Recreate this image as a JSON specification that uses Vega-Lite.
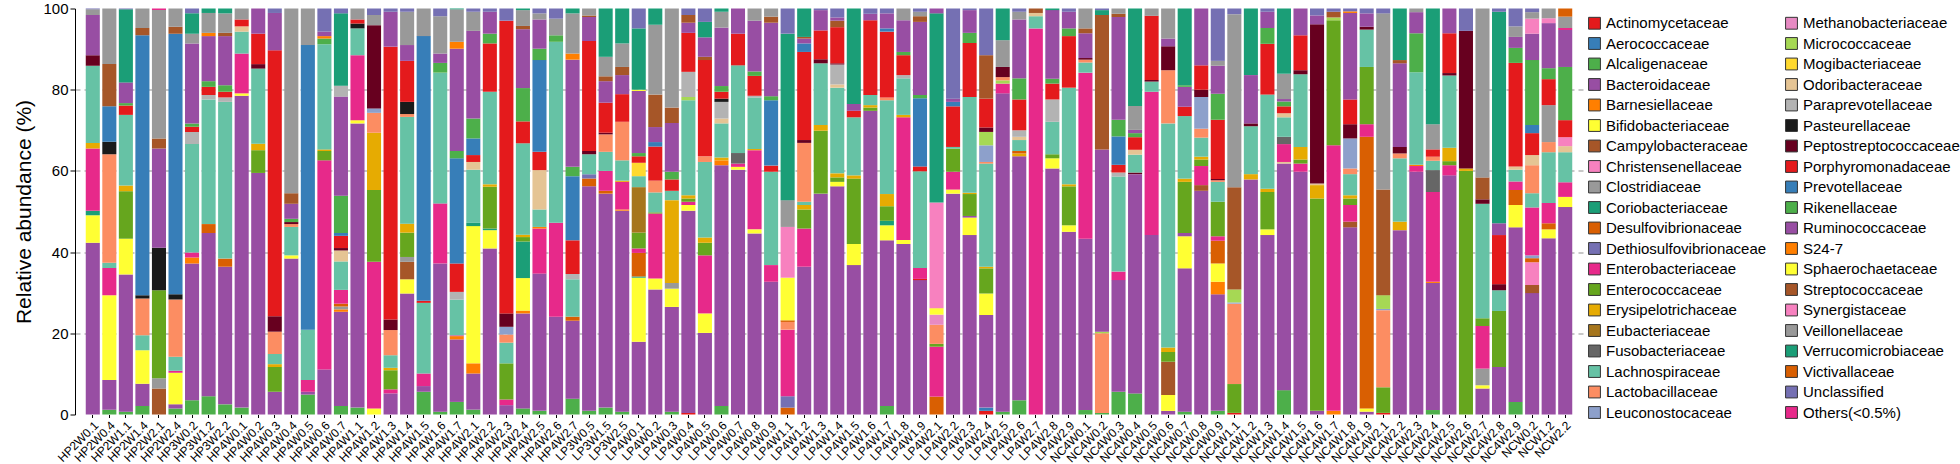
{
"$schema":"https://vega.github.io/schema/vega-lite/v6.json",
"width":1508,"height":406,
"autosize":{"type":"none"},
"padding":{"left":75,"top":8.5,"right":377,"bottom":50},
"config":{"font":"Liberation Sans","view":{"stroke":null}},
"datasets":{
"fam":[{"c":"Act","n":"Actinomycetaceae"},{"c":"Aer","n":"Aerococcaceae"},{"c":"Alc","n":"Alcaligenaceae"},{"c":"Bac","n":"Bacteroidaceae"},{"c":"Bar","n":"Barnesiellaceae"},{"c":"Bif","n":"Bifidobacteriaceae"},{"c":"Cam","n":"Campylobacteraceae"},{"c":"Chr","n":"Christensenellaceae"},{"c":"Clo","n":"Clostridiaceae"},{"c":"Cor","n":"Coriobacteriaceae"},{"c":"Des","n":"Desulfovibrionaceae"},{"c":"Det","n":"Dethiosulfovibrionaceae"},{"c":"Ent","n":"Enterobacteriaceae"},{"c":"Enc","n":"Enterococcaceae"},{"c":"Ery","n":"Erysipelotrichaceae"},{"c":"Eub","n":"Eubacteriaceae"},{"c":"Fus","n":"Fusobacteriaceae"},{"c":"Lac","n":"Lachnospiraceae"},{"c":"Lab","n":"Lactobacillaceae"},{"c":"Leu","n":"Leuconostocaceae"},{"c":"Met","n":"Methanobacteriaceae"},{"c":"Mic","n":"Micrococcaceae"},{"c":"Mog","n":"Mogibacteriaceae"},{"c":"Odo","n":"Odoribacteraceae"},{"c":"Par","n":"Paraprevotellaceae"},{"c":"Pas","n":"Pasteurellaceae"},{"c":"Pep","n":"Peptostreptococcaceae"},{"c":"Por","n":"Porphyromonadaceae"},{"c":"Pre","n":"Prevotellaceae"},{"c":"Rik","n":"Rikenellaceae"},{"c":"Rum","n":"Ruminococcaceae"},{"c":"S24","n":"S24-7"},{"c":"Sph","n":"Sphaerochaetaceae"},{"c":"Str","n":"Streptococcaceae"},{"c":"Syn","n":"Synergistaceae"},{"c":"Vei","n":"Veillonellaceae"},{"c":"Ver","n":"Verrucomicrobiaceae"},{"c":"Vic","n":"Victivallaceae"},{"c":"Unc","n":"Unclassified"},{"c":"Oth","n":"Others(<0.5%)"}],
"d":[
{"s":"HP2W0.1","f":"Rum","v":42.3},{"s":"HP2W0.1","f":"Bif","v":6.8},{"s":"HP2W0.1","f":"Cor","v":1.1},{"s":"HP2W0.1","f":"Ent","v":15.3},{"s":"HP2W0.1","f":"Ery","v":1.4},{"s":"HP2W0.1","f":"Lac","v":19.0},{"s":"HP2W0.1","f":"Pep","v":2.6},{"s":"HP2W0.1","f":"Bac","v":9.9},{"s":"HP2W0.1","f":"Clo","v":1.4},{"s":"HP2W0.1","f":"Unc","v":0.2},
{"s":"HP2W0.4","f":"Rik","v":1.2},{"s":"HP2W0.4","f":"Rum","v":7.3},{"s":"HP2W0.4","f":"Bif","v":20.9},{"s":"HP2W0.4","f":"Ent","v":6.7},{"s":"HP2W0.4","f":"Lac","v":1.3},{"s":"HP2W0.4","f":"Lab","v":26.7},{"s":"HP2W0.4","f":"Pas","v":3.1},{"s":"HP2W0.4","f":"Pre","v":8.7},{"s":"HP2W0.4","f":"Str","v":10.4},{"s":"HP2W0.4","f":"Clo","v":13.7},
{"s":"HP2W1.1","f":"Rik","v":0.7},{"s":"HP2W1.1","f":"Rum","v":33.8},{"s":"HP2W1.1","f":"Bif","v":8.8},{"s":"HP2W1.1","f":"Enc","v":11.7},{"s":"HP2W1.1","f":"Ery","v":1.4},{"s":"HP2W1.1","f":"Lac","v":17.4},{"s":"HP2W1.1","f":"Por","v":2.3},{"s":"HP2W1.1","f":"Alc","v":0.6},{"s":"HP2W1.1","f":"Bac","v":5.1},{"s":"HP2W1.1","f":"Ver","v":18.0},{"s":"HP2W1.1","f":"Unc","v":0.2},
{"s":"HP2W1.4","f":"Rik","v":2.1},{"s":"HP2W1.4","f":"Rum","v":5.5},{"s":"HP2W1.4","f":"Bif","v":8.2},{"s":"HP2W1.4","f":"Lac","v":3.7},{"s":"HP2W1.4","f":"Lab","v":9.1},{"s":"HP2W1.4","f":"Pas","v":0.8},{"s":"HP2W1.4","f":"Pre","v":64.0},{"s":"HP2W1.4","f":"Str","v":1.8},{"s":"HP2W1.4","f":"Clo","v":4.8},
{"s":"HP2W2.1","f":"Cam","v":6.4},{"s":"HP2W2.1","f":"Clo","v":2.5},{"s":"HP2W2.1","f":"Enc","v":21.7},{"s":"HP2W2.1","f":"Pas","v":10.5},{"s":"HP2W2.1","f":"Rum","v":24.4},{"s":"HP2W2.1","f":"Str","v":2.5},{"s":"HP2W2.1","f":"Vei","v":31.6},{"s":"HP2W2.1","f":"Oth","v":0.4},
{"s":"HP2W2.4","f":"Rik","v":1.5},{"s":"HP2W2.4","f":"Rum","v":1.0},{"s":"HP2W2.4","f":"Bif","v":7.8},{"s":"HP2W2.4","f":"Oth","v":0.5},{"s":"HP2W2.4","f":"Lac","v":3.4},{"s":"HP2W2.4","f":"Lab","v":14.1},{"s":"HP2W2.4","f":"Pas","v":1.3},{"s":"HP2W2.4","f":"Pre","v":64.2},{"s":"HP2W2.4","f":"Str","v":1.7},{"s":"HP2W2.4","f":"Clo","v":4.5},
{"s":"HP3W0.2","f":"Rik","v":3.5},{"s":"HP3W0.2","f":"Rum","v":33.7},{"s":"HP3W0.2","f":"S24","v":1.5},{"s":"HP3W0.2","f":"Ent","v":1.2},{"s":"HP3W0.2","f":"Lac","v":26.7},{"s":"HP3W0.2","f":"Par","v":3.0},{"s":"HP3W0.2","f":"Por","v":1.3},{"s":"HP3W0.2","f":"Alc","v":0.8},{"s":"HP3W0.2","f":"Bac","v":19.7},{"s":"HP3W0.2","f":"Clo","v":2.4},{"s":"HP3W0.2","f":"Ver","v":5.0},{"s":"HP3W0.2","f":"Unc","v":1.2},
{"s":"HP3W1.2","f":"Rik","v":4.5},{"s":"HP3W1.2","f":"Rum","v":40.2},{"s":"HP3W1.2","f":"Vic","v":2.2},{"s":"HP3W1.2","f":"Lac","v":30.7},{"s":"HP3W1.2","f":"Par","v":1.1},{"s":"HP3W1.2","f":"Por","v":2.0},{"s":"HP3W1.2","f":"Alc","v":1.4},{"s":"HP3W1.2","f":"Bac","v":11.1},{"s":"HP3W1.2","f":"S24","v":0.8},{"s":"HP3W1.2","f":"Clo","v":4.9},{"s":"HP3W1.2","f":"Ver","v":1.1},
{"s":"HP3W2.2","f":"Rik","v":2.5},{"s":"HP3W2.2","f":"Rum","v":33.9},{"s":"HP3W2.2","f":"Vic","v":2.0},{"s":"HP3W2.2","f":"Lac","v":38.6},{"s":"HP3W2.2","f":"Par","v":1.1},{"s":"HP3W2.2","f":"Act","v":1.4},{"s":"HP3W2.2","f":"Alc","v":1.6},{"s":"HP3W2.2","f":"Bac","v":12.1},{"s":"HP3W2.2","f":"Str","v":0.8},{"s":"HP3W2.2","f":"Clo","v":4.8},{"s":"HP3W2.2","f":"Ver","v":1.2},
{"s":"HP4W0.1","f":"Rik","v":1.7},{"s":"HP4W0.1","f":"Rum","v":76.8},{"s":"HP4W0.1","f":"Sph","v":0.6},{"s":"HP4W0.1","f":"Ent","v":9.8},{"s":"HP4W0.1","f":"Lac","v":5.4},{"s":"HP4W0.1","f":"Odo","v":1.3},{"s":"HP4W0.1","f":"Por","v":1.7},{"s":"HP4W0.1","f":"Clo","v":2.7},
{"s":"HP4W0.2","f":"Rum","v":59.5},{"s":"HP4W0.2","f":"Enc","v":5.6},{"s":"HP4W0.2","f":"Ery","v":1.6},{"s":"HP4W0.2","f":"Lac","v":18.5},{"s":"HP4W0.2","f":"Pep","v":1.1},{"s":"HP4W0.2","f":"Por","v":7.5},{"s":"HP4W0.2","f":"Bac","v":6.2},
{"s":"HP4W0.3","f":"Rum","v":5.6},{"s":"HP4W0.3","f":"Enc","v":6.1},{"s":"HP4W0.3","f":"Ery","v":0.7},{"s":"HP4W0.3","f":"Lac","v":2.5},{"s":"HP4W0.3","f":"Lab","v":5.5},{"s":"HP4W0.3","f":"Pep","v":3.8},{"s":"HP4W0.3","f":"Por","v":65.5},{"s":"HP4W0.3","f":"Bac","v":9.2},{"s":"HP4W0.3","f":"Unc","v":1.1},
{"s":"HP4W0.4","f":"Rum","v":38.4},{"s":"HP4W0.4","f":"Sph","v":0.8},{"s":"HP4W0.4","f":"Lac","v":7.0},{"s":"HP4W0.4","f":"Lab","v":0.7},{"s":"HP4W0.4","f":"Pep","v":0.5},{"s":"HP4W0.4","f":"Alc","v":0.8},{"s":"HP4W0.4","f":"Bac","v":3.7},{"s":"HP4W0.4","f":"Str","v":2.6},{"s":"HP4W0.4","f":"Clo","v":45.5},
{"s":"HP4W0.5","f":"Rik","v":4.9},{"s":"HP4W0.5","f":"Rum","v":0.7},{"s":"HP4W0.5","f":"Ent","v":2.9},{"s":"HP4W0.5","f":"Lac","v":12.4},{"s":"HP4W0.5","f":"Pre","v":70.1},{"s":"HP4W0.5","f":"Clo","v":9.0},
{"s":"HP4W0.6","f":"Rum","v":11.1},{"s":"HP4W0.6","f":"Ent","v":51.5},{"s":"HP4W0.6","f":"Enc","v":2.3},{"s":"HP4W0.6","f":"Ery","v":0.4},{"s":"HP4W0.6","f":"Lac","v":25.9},{"s":"HP4W0.6","f":"Alc","v":1.4},{"s":"HP4W0.6","f":"S24","v":0.6},{"s":"HP4W0.6","f":"Bac","v":1.1},{"s":"HP4W0.6","f":"Unc","v":5.7},
{"s":"HP4W0.7","f":"Rik","v":2.1},{"s":"HP4W0.7","f":"Rum","v":23.2},{"s":"HP4W0.7","f":"S24","v":0.6},{"s":"HP4W0.7","f":"Clo","v":0.7},{"s":"HP4W0.7","f":"Vic","v":0.7},{"s":"HP4W0.7","f":"Ent","v":3.4},{"s":"HP4W0.7","f":"Lac","v":7.0},{"s":"HP4W0.7","f":"Odo","v":2.7},{"s":"HP4W0.7","f":"Pep","v":0.6},{"s":"HP4W0.7","f":"Por","v":3.0},{"s":"HP4W0.7","f":"Pre","v":0.7},{"s":"HP4W0.7","f":"Alc","v":9.2},{"s":"HP4W0.7","f":"Bac","v":24.4},{"s":"HP4W0.7","f":"Par","v":2.7},{"s":"HP4W0.7","f":"Ver","v":17.8},{"s":"HP4W0.7","f":"Unc","v":1.2},
{"s":"HP4W1.1","f":"Rik","v":1.7},{"s":"HP4W1.1","f":"Rum","v":70.0},{"s":"HP4W1.1","f":"Sph","v":0.8},{"s":"HP4W1.1","f":"Ent","v":16.0},{"s":"HP4W1.1","f":"Lac","v":6.6},{"s":"HP4W1.1","f":"Pas","v":1.2},{"s":"HP4W1.1","f":"Por","v":1.0},{"s":"HP4W1.1","f":"Clo","v":2.7},
{"s":"HP4W1.2","f":"Sph","v":1.5},{"s":"HP4W1.2","f":"Ent","v":36.1},{"s":"HP4W1.2","f":"Enc","v":17.7},{"s":"HP4W1.2","f":"Ery","v":14.1},{"s":"HP4W1.2","f":"Lab","v":4.9},{"s":"HP4W1.2","f":"Leu","v":1.1},{"s":"HP4W1.2","f":"Pep","v":20.5},{"s":"HP4W1.2","f":"Clo","v":2.5},{"s":"HP4W1.2","f":"Unc","v":1.6},
{"s":"HP4W1.3","f":"Rum","v":5.2},{"s":"HP4W1.3","f":"Oth","v":1.0},{"s":"HP4W1.3","f":"Enc","v":4.7},{"s":"HP4W1.3","f":"Ery","v":0.6},{"s":"HP4W1.3","f":"Lac","v":3.1},{"s":"HP4W1.3","f":"Lab","v":6.2},{"s":"HP4W1.3","f":"Pep","v":2.6},{"s":"HP4W1.3","f":"Por","v":67.2},{"s":"HP4W1.3","f":"Bac","v":8.6},{"s":"HP4W1.3","f":"Unc","v":0.8},
{"s":"HP4W1.4","f":"Rum","v":29.8},{"s":"HP4W1.4","f":"Sph","v":3.5},{"s":"HP4W1.4","f":"Str","v":4.3},{"s":"HP4W1.4","f":"Vei","v":1.2},{"s":"HP4W1.4","f":"Enc","v":6.0},{"s":"HP4W1.4","f":"Ery","v":2.2},{"s":"HP4W1.4","f":"Lac","v":26.3},{"s":"HP4W1.4","f":"Lab","v":0.7},{"s":"HP4W1.4","f":"Pas","v":3.0},{"s":"HP4W1.4","f":"Por","v":10.1},{"s":"HP4W1.4","f":"Bac","v":3.9},{"s":"HP4W1.4","f":"Clo","v":8.2},{"s":"HP4W1.4","f":"Unc","v":0.8},
{"s":"HP4W1.5","f":"Rik","v":5.6},{"s":"HP4W1.5","f":"Rum","v":1.4},{"s":"HP4W1.5","f":"Ent","v":3.1},{"s":"HP4W1.5","f":"Lac","v":17.4},{"s":"HP4W1.5","f":"Por","v":0.5},{"s":"HP4W1.5","f":"Pre","v":65.2},{"s":"HP4W1.5","f":"Clo","v":6.8},
{"s":"HP4W1.6","f":"Rik","v":0.7},{"s":"HP4W1.6","f":"Rum","v":36.5},{"s":"HP4W1.6","f":"Ent","v":14.8},{"s":"HP4W1.6","f":"Lac","v":32.2},{"s":"HP4W1.6","f":"Alc","v":2.4},{"s":"HP4W1.6","f":"Bac","v":2.3},{"s":"HP4W1.6","f":"Clo","v":9.2},{"s":"HP4W1.6","f":"Unc","v":1.9},
{"s":"HP4W1.7","f":"Rik","v":3.1},{"s":"HP4W1.7","f":"Rum","v":15.4},{"s":"HP4W1.7","f":"S24","v":0.8},{"s":"HP4W1.7","f":"Oth","v":0.2},{"s":"HP4W1.7","f":"Lac","v":8.8},{"s":"HP4W1.7","f":"Par","v":1.9},{"s":"HP4W1.7","f":"Por","v":7.0},{"s":"HP4W1.7","f":"Pre","v":25.9},{"s":"HP4W1.7","f":"Alc","v":1.8},{"s":"HP4W1.7","f":"Bac","v":25.2},{"s":"HP4W1.7","f":"Bar","v":1.7},{"s":"HP4W1.7","f":"Clo","v":8.0},{"s":"HP4W1.7","f":"Ver","v":0.2},
{"s":"HP4W2.1","f":"Rik","v":1.2},{"s":"HP4W2.1","f":"Rum","v":8.9},{"s":"HP4W2.1","f":"S24","v":2.5},{"s":"HP4W2.1","f":"Bif","v":33.8},{"s":"HP4W2.1","f":"Cor","v":0.8},{"s":"HP4W2.1","f":"Lac","v":13.1},{"s":"HP4W2.1","f":"Odo","v":1.9},{"s":"HP4W2.1","f":"Por","v":1.7},{"s":"HP4W2.1","f":"Pre","v":4.1},{"s":"HP4W2.1","f":"Alc","v":4.9},{"s":"HP4W2.1","f":"Bac","v":21.6},{"s":"HP4W2.1","f":"Clo","v":4.7},{"s":"HP4W2.1","f":"Unc","v":0.8},
{"s":"HP4W2.2","f":"Rum","v":40.9},{"s":"HP4W2.2","f":"Sph","v":4.5},{"s":"HP4W2.2","f":"Cor","v":0.4},{"s":"HP4W2.2","f":"Enc","v":10.3},{"s":"HP4W2.2","f":"Ery","v":0.6},{"s":"HP4W2.2","f":"Lac","v":22.8},{"s":"HP4W2.2","f":"Por","v":11.9},{"s":"HP4W2.2","f":"Alc","v":2.4},{"s":"HP4W2.2","f":"Bac","v":5.4},{"s":"HP4W2.2","f":"Unc","v":0.8},
{"s":"HP4W2.3","f":"Rum","v":2.3},{"s":"HP4W2.3","f":"Oth","v":1.4},{"s":"HP4W2.3","f":"Enc","v":8.9},{"s":"HP4W2.3","f":"Lac","v":5.1},{"s":"HP4W2.3","f":"Lab","v":2.0},{"s":"HP4W2.3","f":"Leu","v":1.9},{"s":"HP4W2.3","f":"Pep","v":3.3},{"s":"HP4W2.3","f":"Por","v":72.1},{"s":"HP4W2.3","f":"Unc","v":3.0},
{"s":"HP4W2.4","f":"Rik","v":1.5},{"s":"HP4W2.4","f":"Rum","v":23.4},{"s":"HP4W2.4","f":"S24","v":0.7},{"s":"HP4W2.4","f":"Sph","v":8.0},{"s":"HP4W2.4","f":"Cor","v":9.0},{"s":"HP4W2.4","f":"Enc","v":1.1},{"s":"HP4W2.4","f":"Ery","v":0.6},{"s":"HP4W2.4","f":"Lac","v":22.5},{"s":"HP4W2.4","f":"Por","v":5.4},{"s":"HP4W2.4","f":"Alc","v":8.2},{"s":"HP4W2.4","f":"Bac","v":14.5},{"s":"HP4W2.4","f":"Str","v":0.8},{"s":"HP4W2.4","f":"Clo","v":3.9},{"s":"HP4W2.4","f":"Ver","v":0.4},
{"s":"HP4W2.5","f":"Rik","v":0.9},{"s":"HP4W2.5","f":"Rum","v":33.8},{"s":"HP4W2.5","f":"Ent","v":11.1},{"s":"HP4W2.5","f":"S24","v":0.4},{"s":"HP4W2.5","f":"Lac","v":4.3},{"s":"HP4W2.5","f":"Odo","v":9.7},{"s":"HP4W2.5","f":"Por","v":4.5},{"s":"HP4W2.5","f":"Pre","v":22.6},{"s":"HP4W2.5","f":"Alc","v":2.8},{"s":"HP4W2.5","f":"Bac","v":7.2},{"s":"HP4W2.5","f":"Clo","v":1.5},{"s":"HP4W2.5","f":"Unc","v":1.2},
{"s":"HP4W2.6","f":"Rum","v":24.1},{"s":"HP4W2.6","f":"Ent","v":23.1},{"s":"HP4W2.6","f":"Lac","v":44.6},{"s":"HP4W2.6","f":"Alc","v":1.6},{"s":"HP4W2.6","f":"Clo","v":4.1},{"s":"HP4W2.6","f":"Unc","v":2.5},
{"s":"HP4W2.7","f":"Rik","v":3.9},{"s":"HP4W2.7","f":"Rum","v":19.2},{"s":"HP4W2.7","f":"Vic","v":1.0},{"s":"HP4W2.7","f":"Lac","v":9.2},{"s":"HP4W2.7","f":"Par","v":1.3},{"s":"HP4W2.7","f":"Por","v":8.3},{"s":"HP4W2.7","f":"Pre","v":15.8},{"s":"HP4W2.7","f":"Alc","v":2.3},{"s":"HP4W2.7","f":"Bac","v":26.4},{"s":"HP4W2.7","f":"S24","v":1.5},{"s":"HP4W2.7","f":"Clo","v":9.9},{"s":"HP4W2.7","f":"Ver","v":1.2},
{"s":"LP3W0.5","f":"Rik","v":0.9},{"s":"LP3W0.5","f":"Rum","v":55.3},{"s":"LP3W0.5","f":"Des","v":1.9},{"s":"LP3W0.5","f":"Det","v":1.1},{"s":"LP3W0.5","f":"Lac","v":4.9},{"s":"LP3W0.5","f":"Pep","v":0.8},{"s":"LP3W0.5","f":"Por","v":27.1},{"s":"LP3W0.5","f":"Bac","v":5.9},{"s":"LP3W0.5","f":"Str","v":0.4},{"s":"LP3W0.5","f":"Clo","v":1.7},
{"s":"LP3W1.5","f":"Rik","v":1.7},{"s":"LP3W1.5","f":"Rum","v":52.7},{"s":"LP3W1.5","f":"Vic","v":0.7},{"s":"LP3W1.5","f":"Ent","v":4.9},{"s":"LP3W1.5","f":"Lac","v":4.7},{"s":"LP3W1.5","f":"Lab","v":4.3},{"s":"LP3W1.5","f":"Pep","v":0.4},{"s":"LP3W1.5","f":"Por","v":7.4},{"s":"LP3W1.5","f":"Bac","v":5.3},{"s":"LP3W1.5","f":"Str","v":1.2},{"s":"LP3W1.5","f":"Clo","v":4.8},{"s":"LP3W1.5","f":"Ver","v":11.9},
{"s":"LP3W2.5","f":"Rik","v":0.7},{"s":"LP3W2.5","f":"Rum","v":49.5},{"s":"LP3W2.5","f":"S24","v":0.3},{"s":"LP3W2.5","f":"Ent","v":6.8},{"s":"LP3W2.5","f":"Ery","v":0.3},{"s":"LP3W2.5","f":"Lac","v":5.0},{"s":"LP3W2.5","f":"Lab","v":9.5},{"s":"LP3W2.5","f":"Por","v":6.8},{"s":"LP3W2.5","f":"Bac","v":4.7},{"s":"LP3W2.5","f":"Str","v":2.0},{"s":"LP3W2.5","f":"Clo","v":5.8},{"s":"LP3W2.5","f":"Ver","v":8.6},
{"s":"LP4W0.1","f":"Rum","v":17.9},{"s":"LP4W0.1","f":"Bif","v":15.8},{"s":"LP4W0.1","f":"Cor","v":0.3},{"s":"LP4W0.1","f":"Des","v":5.8},{"s":"LP4W0.1","f":"Oth","v":1.1},{"s":"LP4W0.1","f":"Enc","v":3.9},{"s":"LP4W0.1","f":"Eub","v":11.2},{"s":"LP4W0.1","f":"Lac","v":2.7},{"s":"LP4W0.1","f":"Mog","v":3.3},{"s":"LP4W0.1","f":"Act","v":1.6},{"s":"LP4W0.1","f":"Alc","v":0.8},{"s":"LP4W0.1","f":"Bac","v":15.3},{"s":"LP4W0.1","f":"Sph","v":0.3},{"s":"LP4W0.1","f":"Ver","v":15.1},{"s":"LP4W0.1","f":"Unc","v":4.9},
{"s":"LP4W0.2","f":"Rum","v":30.8},{"s":"LP4W0.2","f":"Sph","v":2.7},{"s":"LP4W0.2","f":"Ent","v":16.0},{"s":"LP4W0.2","f":"Enc","v":0.3},{"s":"LP4W0.2","f":"Lac","v":4.9},{"s":"LP4W0.2","f":"Lab","v":2.9},{"s":"LP4W0.2","f":"Por","v":8.4},{"s":"LP4W0.2","f":"Pre","v":1.1},{"s":"LP4W0.2","f":"Bac","v":3.7},{"s":"LP4W0.2","f":"Str","v":8.0},{"s":"LP4W0.2","f":"Clo","v":17.2},{"s":"LP4W0.2","f":"Ver","v":4.0},
{"s":"LP4W0.3","f":"Rik","v":0.7},{"s":"LP4W0.3","f":"Rum","v":25.8},{"s":"LP4W0.3","f":"Bif","v":4.5},{"s":"LP4W0.3","f":"Clo","v":1.4},{"s":"LP4W0.3","f":"Ery","v":20.4},{"s":"LP4W0.3","f":"Lac","v":2.3},{"s":"LP4W0.3","f":"Por","v":2.8},{"s":"LP4W0.3","f":"Alc","v":1.9},{"s":"LP4W0.3","f":"Bac","v":12.0},{"s":"LP4W0.3","f":"Str","v":3.8},{"s":"LP4W0.3","f":"Vei","v":24.4},
{"s":"LP4W0.4","f":"Act","v":0.4},{"s":"LP4W0.4","f":"Rum","v":49.8},{"s":"LP4W0.4","f":"Sph","v":1.4},{"s":"LP4W0.4","f":"Oth","v":0.8},{"s":"LP4W0.4","f":"Enc","v":0.8},{"s":"LP4W0.4","f":"Ery","v":0.8},{"s":"LP4W0.4","f":"Lac","v":23.4},{"s":"LP4W0.4","f":"Mic","v":0.8},{"s":"LP4W0.4","f":"Par","v":6.2},{"s":"LP4W0.4","f":"Por","v":9.6},{"s":"LP4W0.4","f":"Bac","v":2.5},{"s":"LP4W0.4","f":"Str","v":1.9},{"s":"LP4W0.4","f":"Unc","v":1.6},
{"s":"LP4W0.5","f":"Rum","v":20.1},{"s":"LP4W0.5","f":"Sph","v":4.8},{"s":"LP4W0.5","f":"Ent","v":14.3},{"s":"LP4W0.5","f":"Enc","v":3.1},{"s":"LP4W0.5","f":"Ery","v":1.3},{"s":"LP4W0.5","f":"Lac","v":18.6},{"s":"LP4W0.5","f":"Lab","v":1.4},{"s":"LP4W0.5","f":"Por","v":23.7},{"s":"LP4W0.5","f":"Str","v":0.8},{"s":"LP4W0.5","f":"Bac","v":4.8},{"s":"LP4W0.5","f":"Ver","v":3.8},{"s":"LP4W0.5","f":"Unc","v":3.3},
{"s":"LP4W0.6","f":"Rik","v":2.1},{"s":"LP4W0.6","f":"Rum","v":59.3},{"s":"LP4W0.6","f":"S24","v":1.2},{"s":"LP4W0.6","f":"Ery","v":0.7},{"s":"LP4W0.6","f":"Lac","v":8.4},{"s":"LP4W0.6","f":"Odo","v":1.2},{"s":"LP4W0.6","f":"Par","v":4.1},{"s":"LP4W0.6","f":"Pas","v":0.8},{"s":"LP4W0.6","f":"Por","v":1.7},{"s":"LP4W0.6","f":"Alc","v":1.4},{"s":"LP4W0.6","f":"Bac","v":14.4},{"s":"LP4W0.6","f":"Clo","v":3.9},{"s":"LP4W0.6","f":"Ver","v":0.8},
{"s":"LP4W0.7","f":"Rum","v":60.3},{"s":"LP4W0.7","f":"Sph","v":0.7},{"s":"LP4W0.7","f":"Oth","v":0.8},{"s":"LP4W0.7","f":"Fus","v":2.6},{"s":"LP4W0.7","f":"Lac","v":21.6},{"s":"LP4W0.7","f":"Por","v":7.8},{"s":"LP4W0.7","f":"Bac","v":6.2},
{"s":"LP4W0.8","f":"Rum","v":44.6},{"s":"LP4W0.8","f":"Sph","v":1.0},{"s":"LP4W0.8","f":"Ent","v":19.5},{"s":"LP4W0.8","f":"Ery","v":0.3},{"s":"LP4W0.8","f":"Lac","v":12.7},{"s":"LP4W0.8","f":"Par","v":0.4},{"s":"LP4W0.8","f":"Por","v":4.9},{"s":"LP4W0.8","f":"Alc","v":1.1},{"s":"LP4W0.8","f":"Bac","v":12.5},{"s":"LP4W0.8","f":"Clo","v":3.0},
{"s":"LP4W0.9","f":"Rum","v":32.7},{"s":"LP4W0.9","f":"Ent","v":4.1},{"s":"LP4W0.9","f":"Lac","v":23.0},{"s":"LP4W0.9","f":"Por","v":1.5},{"s":"LP4W0.9","f":"Pre","v":16.1},{"s":"LP4W0.9","f":"Alc","v":1.0},{"s":"LP4W0.9","f":"Bac","v":18.1},{"s":"LP4W0.9","f":"Str","v":1.5},{"s":"LP4W0.9","f":"Clo","v":2.0},
{"s":"LP4W1.1","f":"Des","v":1.7},{"s":"LP4W1.1","f":"Det","v":2.8},{"s":"LP4W1.1","f":"Ent","v":16.4},{"s":"LP4W1.1","f":"Lab","v":1.9},{"s":"LP4W1.1","f":"Vic","v":0.4},{"s":"LP4W1.1","f":"Bif","v":10.5},{"s":"LP4W1.1","f":"Syn","v":12.5},{"s":"LP4W1.1","f":"Vei","v":6.6},{"s":"LP4W1.1","f":"Ver","v":41.0},{"s":"LP4W1.1","f":"Unc","v":6.2},
{"s":"LP4W1.2","f":"Rum","v":36.4},{"s":"LP4W1.2","f":"Ent","v":9.4},{"s":"LP4W1.2","f":"Enc","v":4.7},{"s":"LP4W1.2","f":"Ery","v":1.1},{"s":"LP4W1.2","f":"Lac","v":0.8},{"s":"LP4W1.2","f":"Lab","v":14.5},{"s":"LP4W1.2","f":"Pep","v":0.7},{"s":"LP4W1.2","f":"Por","v":21.7},{"s":"LP4W1.2","f":"Pre","v":2.1},{"s":"LP4W1.2","f":"Bac","v":1.2},{"s":"LP4W1.2","f":"Str","v":0.4},{"s":"LP4W1.2","f":"Ver","v":7.0},
{"s":"LP4W1.3","f":"Rum","v":54.4},{"s":"LP4W1.3","f":"Enc","v":15.5},{"s":"LP4W1.3","f":"Ery","v":1.4},{"s":"LP4W1.3","f":"Lac","v":15.2},{"s":"LP4W1.3","f":"Pep","v":1.0},{"s":"LP4W1.3","f":"Por","v":7.1},{"s":"LP4W1.3","f":"Bac","v":5.0},{"s":"LP4W1.3","f":"Unc","v":0.4},
{"s":"LP4W1.4","f":"Rum","v":56.2},{"s":"LP4W1.4","f":"Sph","v":1.1},{"s":"LP4W1.4","f":"Enc","v":1.1},{"s":"LP4W1.4","f":"Ery","v":1.0},{"s":"LP4W1.4","f":"Lac","v":21.1},{"s":"LP4W1.4","f":"Odo","v":0.8},{"s":"LP4W1.4","f":"Par","v":4.9},{"s":"LP4W1.4","f":"Pep","v":0.3},{"s":"LP4W1.4","f":"Por","v":8.9},{"s":"LP4W1.4","f":"Str","v":1.6},{"s":"LP4W1.4","f":"Bac","v":0.8},{"s":"LP4W1.4","f":"Unc","v":2.2},
{"s":"LP4W1.5","f":"Rum","v":36.8},{"s":"LP4W1.5","f":"Sph","v":5.2},{"s":"LP4W1.5","f":"Enc","v":16.1},{"s":"LP4W1.5","f":"Ery","v":0.8},{"s":"LP4W1.5","f":"Lac","v":14.3},{"s":"LP4W1.5","f":"Por","v":1.6},{"s":"LP4W1.5","f":"Bac","v":1.7},{"s":"LP4W1.5","f":"Ver","v":23.5},
{"s":"LP4W1.6","f":"Rum","v":74.8},{"s":"LP4W1.6","f":"Enc","v":0.8},{"s":"LP4W1.6","f":"Ery","v":0.6},{"s":"LP4W1.6","f":"Lac","v":2.5},{"s":"LP4W1.6","f":"Por","v":18.4},{"s":"LP4W1.6","f":"Bac","v":1.6},{"s":"LP4W1.6","f":"Unc","v":1.3},
{"s":"LP4W1.7","f":"Rik","v":2.1},{"s":"LP4W1.7","f":"Rum","v":40.8},{"s":"LP4W1.7","f":"Sph","v":3.7},{"s":"LP4W1.7","f":"Cor","v":1.1},{"s":"LP4W1.7","f":"Enc","v":3.6},{"s":"LP4W1.7","f":"Ery","v":3.0},{"s":"LP4W1.7","f":"Lac","v":23.1},{"s":"LP4W1.7","f":"Lab","v":0.7},{"s":"LP4W1.7","f":"Por","v":16.2},{"s":"LP4W1.7","f":"Pre","v":0.8},{"s":"LP4W1.7","f":"Bac","v":3.7},{"s":"LP4W1.7","f":"Unc","v":1.2},
{"s":"LP4W1.8","f":"Rum","v":42.0},{"s":"LP4W1.8","f":"Sph","v":1.0},{"s":"LP4W1.8","f":"Ent","v":30.2},{"s":"LP4W1.8","f":"Ery","v":0.6},{"s":"LP4W1.8","f":"Lac","v":9.0},{"s":"LP4W1.8","f":"Par","v":0.8},{"s":"LP4W1.8","f":"Por","v":4.9},{"s":"LP4W1.8","f":"Alc","v":0.8},{"s":"LP4W1.8","f":"Bac","v":7.8},{"s":"LP4W1.8","f":"Clo","v":2.9},
{"s":"LP4W1.9","f":"Rum","v":33.1},{"s":"LP4W1.9","f":"Act","v":0.3},{"s":"LP4W1.9","f":"Ent","v":2.7},{"s":"LP4W1.9","f":"Lac","v":23.8},{"s":"LP4W1.9","f":"Por","v":1.2},{"s":"LP4W1.9","f":"Pre","v":16.8},{"s":"LP4W1.9","f":"Alc","v":0.8},{"s":"LP4W1.9","f":"Bac","v":18.0},{"s":"LP4W1.9","f":"Str","v":1.4},{"s":"LP4W1.9","f":"Clo","v":1.1},{"s":"LP4W1.9","f":"Unc","v":0.8},
{"s":"LP4W2.1","f":"Des","v":4.4},{"s":"LP4W2.1","f":"Ent","v":12.3},{"s":"LP4W2.1","f":"Enc","v":0.7},{"s":"LP4W2.1","f":"Lab","v":4.7},{"s":"LP4W2.1","f":"Met","v":2.5},{"s":"LP4W2.1","f":"Sph","v":1.6},{"s":"LP4W2.1","f":"Syn","v":26.0},{"s":"LP4W2.1","f":"Ver","v":46.6},{"s":"LP4W2.1","f":"Bac","v":1.2},
{"s":"LP4W2.2","f":"Rum","v":54.4},{"s":"LP4W2.2","f":"Sph","v":1.0},{"s":"LP4W2.2","f":"Ent","v":4.4},{"s":"LP4W2.2","f":"Enc","v":5.7},{"s":"LP4W2.2","f":"Lac","v":0.4},{"s":"LP4W2.2","f":"Por","v":10.0},{"s":"LP4W2.2","f":"Pre","v":1.1},{"s":"LP4W2.2","f":"Bac","v":0.8},{"s":"LP4W2.2","f":"Unc","v":22.2},
{"s":"LP4W2.3","f":"Rum","v":44.2},{"s":"LP4W2.3","f":"Sph","v":4.3},{"s":"LP4W2.3","f":"Bac","v":0.4},{"s":"LP4W2.3","f":"Enc","v":5.4},{"s":"LP4W2.3","f":"Ery","v":0.3},{"s":"LP4W2.3","f":"Lac","v":23.6},{"s":"LP4W2.3","f":"Por","v":13.3},{"s":"LP4W2.3","f":"Alc","v":2.5},{"s":"LP4W2.3","f":"Bac","v":5.6},{"s":"LP4W2.3","f":"Unc","v":0.4},
{"s":"LP4W2.4","f":"Act","v":0.9},{"s":"LP4W2.4","f":"Aer","v":0.8},{"s":"LP4W2.4","f":"Rum","v":22.8},{"s":"LP4W2.4","f":"Sph","v":5.3},{"s":"LP4W2.4","f":"Enc","v":6.2},{"s":"LP4W2.4","f":"Ery","v":0.4},{"s":"LP4W2.4","f":"Lac","v":25.4},{"s":"LP4W2.4","f":"Lab","v":0.4},{"s":"LP4W2.4","f":"Leu","v":4.1},{"s":"LP4W2.4","f":"Mic","v":3.3},{"s":"LP4W2.4","f":"Pep","v":1.1},{"s":"LP4W2.4","f":"Por","v":7.1},{"s":"LP4W2.4","f":"Str","v":10.7},{"s":"LP4W2.4","f":"Unc","v":11.5},
{"s":"LP4W2.5","f":"Rik","v":0.7},{"s":"LP4W2.5","f":"Rum","v":78.4},{"s":"LP4W2.5","f":"Ent","v":2.4},{"s":"LP4W2.5","f":"Mic","v":0.8},{"s":"LP4W2.5","f":"Lab","v":0.8},{"s":"LP4W2.5","f":"Pep","v":2.5},{"s":"LP4W2.5","f":"Clo","v":6.6},{"s":"LP4W2.5","f":"Ver","v":7.8},
{"s":"LP4W2.6","f":"Rik","v":3.5},{"s":"LP4W2.6","f":"Rum","v":60.1},{"s":"LP4W2.6","f":"Ery","v":0.7},{"s":"LP4W2.6","f":"Vic","v":0.6},{"s":"LP4W2.6","f":"Lac","v":2.7},{"s":"LP4W2.6","f":"Odo","v":0.8},{"s":"LP4W2.6","f":"Par","v":1.6},{"s":"LP4W2.6","f":"Por","v":7.6},{"s":"LP4W2.6","f":"Alc","v":5.2},{"s":"LP4W2.6","f":"Bac","v":14.5},{"s":"LP4W2.6","f":"Clo","v":1.9},{"s":"LP4W2.6","f":"Unc","v":0.8},
{"s":"LP4W2.7","f":"Ent","v":95.1},{"s":"LP4W2.7","f":"Lac","v":3.0},{"s":"LP4W2.7","f":"Odo","v":0.8},{"s":"LP4W2.7","f":"Str","v":1.1},
{"s":"LP4W2.8","f":"Rum","v":60.6},{"s":"LP4W2.8","f":"Sph","v":2.5},{"s":"LP4W2.8","f":"Enc","v":1.0},{"s":"LP4W2.8","f":"Lac","v":8.0},{"s":"LP4W2.8","f":"Par","v":5.5},{"s":"LP4W2.8","f":"Por","v":3.9},{"s":"LP4W2.8","f":"Alc","v":1.2},{"s":"LP4W2.8","f":"Bac","v":16.9},{"s":"LP4W2.8","f":"Ver","v":0.4},
{"s":"LP4W2.9","f":"Rum","v":45.0},{"s":"LP4W2.9","f":"Sph","v":1.6},{"s":"LP4W2.9","f":"Enc","v":9.6},{"s":"LP4W2.9","f":"Ery","v":0.5},{"s":"LP4W2.9","f":"Lac","v":23.8},{"s":"LP4W2.9","f":"Por","v":12.7},{"s":"LP4W2.9","f":"Alc","v":1.9},{"s":"LP4W2.9","f":"Bac","v":4.1},{"s":"LP4W2.9","f":"Unc","v":0.8},
{"s":"NC4W0.1","f":"Rik","v":1.1},{"s":"NC4W0.1","f":"Rum","v":42.2},{"s":"NC4W0.1","f":"Ent","v":40.9},{"s":"NC4W0.1","f":"Lac","v":2.5},{"s":"NC4W0.1","f":"Lab","v":0.7},{"s":"NC4W0.1","f":"Pep","v":0.4},{"s":"NC4W0.1","f":"Bac","v":6.1},{"s":"NC4W0.1","f":"Str","v":1.2},{"s":"NC4W0.1","f":"Clo","v":4.9},
{"s":"NC4W0.2","f":"Rik","v":0.4},{"s":"NC4W0.2","f":"Lab","v":19.6},{"s":"NC4W0.2","f":"Mic","v":0.4},{"s":"NC4W0.2","f":"Rum","v":44.9},{"s":"NC4W0.2","f":"Str","v":33.1},{"s":"NC4W0.2","f":"Ver","v":1.2},{"s":"NC4W0.2","f":"Unc","v":0.4},
{"s":"NC4W0.3","f":"Rik","v":5.6},{"s":"NC4W0.3","f":"Rum","v":27.5},{"s":"NC4W0.3","f":"Ent","v":2.1},{"s":"NC4W0.3","f":"Lac","v":23.4},{"s":"NC4W0.3","f":"Par","v":1.0},{"s":"NC4W0.3","f":"Por","v":1.9},{"s":"NC4W0.3","f":"Pre","v":7.0},{"s":"NC4W0.3","f":"Alc","v":4.1},{"s":"NC4W0.3","f":"Bac","v":25.3},{"s":"NC4W0.3","f":"Str","v":0.8},{"s":"NC4W0.3","f":"Clo","v":1.3},
{"s":"NC4W0.4","f":"Rik","v":5.2},{"s":"NC4W0.4","f":"Rum","v":54.0},{"s":"NC4W0.4","f":"Pep","v":0.4},{"s":"NC4W0.4","f":"Lac","v":4.4},{"s":"NC4W0.4","f":"Odo","v":1.2},{"s":"NC4W0.4","f":"Por","v":3.1},{"s":"NC4W0.4","f":"Alc","v":1.0},{"s":"NC4W0.4","f":"Bac","v":0.8},{"s":"NC4W0.4","f":"Clo","v":5.9},{"s":"NC4W0.4","f":"Ver","v":24.0},
{"s":"NC4W0.5","f":"Rum","v":44.2},{"s":"NC4W0.5","f":"Ent","v":35.3},{"s":"NC4W0.5","f":"Lac","v":2.5},{"s":"NC4W0.5","f":"Pep","v":0.4},{"s":"NC4W0.5","f":"Por","v":15.8},{"s":"NC4W0.5","f":"Clo","v":1.8},
{"s":"NC4W0.6","f":"Rum","v":0.9},{"s":"NC4W0.6","f":"Sph","v":3.9},{"s":"NC4W0.6","f":"Str","v":8.2},{"s":"NC4W0.6","f":"Enc","v":2.4},{"s":"NC4W0.6","f":"Ery","v":1.1},{"s":"NC4W0.6","f":"Lac","v":55.2},{"s":"NC4W0.6","f":"Lab","v":13.1},{"s":"NC4W0.6","f":"Pep","v":5.9},{"s":"NC4W0.6","f":"Bac","v":1.9},{"s":"NC4W0.6","f":"Clo","v":7.4},
{"s":"NC4W0.7","f":"Rik","v":0.7},{"s":"NC4W0.7","f":"Rum","v":35.3},{"s":"NC4W0.7","f":"Sph","v":7.9},{"s":"NC4W0.7","f":"Bac","v":0.8},{"s":"NC4W0.7","f":"Enc","v":12.6},{"s":"NC4W0.7","f":"Ery","v":0.8},{"s":"NC4W0.7","f":"Lac","v":15.4},{"s":"NC4W0.7","f":"Por","v":2.3},{"s":"NC4W0.7","f":"Bac","v":4.9},{"s":"NC4W0.7","f":"Alc","v":0.4},{"s":"NC4W0.7","f":"Ver","v":18.9},
{"s":"NC4W0.8","f":"Rum","v":55.1},{"s":"NC4W0.8","f":"Str","v":1.4},{"s":"NC4W0.8","f":"Ent","v":4.7},{"s":"NC4W0.8","f":"Enc","v":1.6},{"s":"NC4W0.8","f":"Ery","v":0.7},{"s":"NC4W0.8","f":"Lac","v":4.7},{"s":"NC4W0.8","f":"Lab","v":2.2},{"s":"NC4W0.8","f":"Leu","v":7.8},{"s":"NC4W0.8","f":"Pep","v":1.8},{"s":"NC4W0.8","f":"Por","v":6.0},{"s":"NC4W0.8","f":"Bac","v":14.0},
{"s":"NC4W0.9","f":"Rik","v":0.9},{"s":"NC4W0.9","f":"Rum","v":28.7},{"s":"NC4W0.9","f":"S24","v":3.1},{"s":"NC4W0.9","f":"Sph","v":4.5},{"s":"NC4W0.9","f":"Vic","v":5.6},{"s":"NC4W0.9","f":"Oth","v":1.1},{"s":"NC4W0.9","f":"Enc","v":8.5},{"s":"NC4W0.9","f":"Lac","v":4.9},{"s":"NC4W0.9","f":"Lab","v":0.4},{"s":"NC4W0.9","f":"Pep","v":0.3},{"s":"NC4W0.9","f":"Por","v":14.6},{"s":"NC4W0.9","f":"Alc","v":6.4},{"s":"NC4W0.9","f":"Bac","v":6.9},{"s":"NC4W0.9","f":"Clo","v":1.2},{"s":"NC4W0.9","f":"Unc","v":12.9},
{"s":"NC4W1.1","f":"Act","v":0.4},{"s":"NC4W1.1","f":"Enc","v":7.1},{"s":"NC4W1.1","f":"Lab","v":19.8},{"s":"NC4W1.1","f":"Leu","v":0.3},{"s":"NC4W1.1","f":"Mic","v":3.2},{"s":"NC4W1.1","f":"Str","v":25.2},{"s":"NC4W1.1","f":"Clo","v":42.6},{"s":"NC4W1.1","f":"Unc","v":1.4},
{"s":"NC4W1.2","f":"Rum","v":57.9},{"s":"NC4W1.2","f":"Ery","v":1.3},{"s":"NC4W1.2","f":"Lac","v":11.8},{"s":"NC4W1.2","f":"Pep","v":0.7},{"s":"NC4W1.2","f":"Bac","v":11.9},{"s":"NC4W1.2","f":"Ver","v":16.4},
{"s":"NC4W1.3","f":"Rum","v":44.2},{"s":"NC4W1.3","f":"Sph","v":1.4},{"s":"NC4W1.3","f":"Enc","v":9.2},{"s":"NC4W1.3","f":"Ery","v":0.8},{"s":"NC4W1.3","f":"Lac","v":23.2},{"s":"NC4W1.3","f":"Por","v":12.5},{"s":"NC4W1.3","f":"Alc","v":3.9},{"s":"NC4W1.3","f":"Bac","v":4.0},{"s":"NC4W1.3","f":"Unc","v":0.8},
{"s":"NC4W1.4","f":"Rik","v":6.0},{"s":"NC4W1.4","f":"Rum","v":55.8},{"s":"NC4W1.4","f":"Odo","v":0.4},{"s":"NC4W1.4","f":"Ent","v":4.4},{"s":"NC4W1.4","f":"Fus","v":1.8},{"s":"NC4W1.4","f":"Lac","v":4.8},{"s":"NC4W1.4","f":"Odo","v":1.0},{"s":"NC4W1.4","f":"Por","v":1.7},{"s":"NC4W1.4","f":"Alc","v":1.2},{"s":"NC4W1.4","f":"Bac","v":0.6},{"s":"NC4W1.4","f":"Clo","v":6.2},{"s":"NC4W1.4","f":"Ver","v":16.1},
{"s":"NC4W1.5","f":"Rum","v":59.8},{"s":"NC4W1.5","f":"Ent","v":2.0},{"s":"NC4W1.5","f":"Enc","v":1.0},{"s":"NC4W1.5","f":"Ery","v":3.1},{"s":"NC4W1.5","f":"Lac","v":17.9},{"s":"NC4W1.5","f":"Pep","v":1.0},{"s":"NC4W1.5","f":"Por","v":8.6},{"s":"NC4W1.5","f":"Bac","v":6.6},
{"s":"NC4W1.6","f":"Rum","v":0.9},{"s":"NC4W1.6","f":"Enc","v":52.3},{"s":"NC4W1.6","f":"Ery","v":3.3},{"s":"NC4W1.6","f":"Odo","v":0.4},{"s":"NC4W1.6","f":"Pep","v":39.2},{"s":"NC4W1.6","f":"Bac","v":2.2},{"s":"NC4W1.6","f":"Unc","v":1.7},
{"s":"NC4W1.7","f":"Bar","v":0.9},{"s":"NC4W1.7","f":"Ent","v":65.4},{"s":"NC4W1.7","f":"Enc","v":30.8},{"s":"NC4W1.7","f":"Mic","v":0.7},{"s":"NC4W1.7","f":"Str","v":1.4},{"s":"NC4W1.7","f":"Unc","v":0.8},
{"s":"NC4W1.8","f":"Rum","v":46.1},{"s":"NC4W1.8","f":"Str","v":1.4},{"s":"NC4W1.8","f":"Ent","v":4.1},{"s":"NC4W1.8","f":"Enc","v":1.6},{"s":"NC4W1.8","f":"Ery","v":0.8},{"s":"NC4W1.8","f":"Lac","v":5.2},{"s":"NC4W1.8","f":"Lab","v":1.4},{"s":"NC4W1.8","f":"Leu","v":7.4},{"s":"NC4W1.8","f":"Pep","v":3.5},{"s":"NC4W1.8","f":"Por","v":6.1},{"s":"NC4W1.8","f":"Bac","v":21.3},{"s":"NC4W1.8","f":"S24","v":0.4},{"s":"NC4W1.8","f":"Unc","v":0.7},
{"s":"NC4W1.9","f":"Rum","v":0.7},{"s":"NC4W1.9","f":"Sph","v":0.8},{"s":"NC4W1.9","f":"Vic","v":66.9},{"s":"NC4W1.9","f":"Ent","v":3.1},{"s":"NC4W1.9","f":"Enc","v":14.1},{"s":"NC4W1.9","f":"Lac","v":9.2},{"s":"NC4W1.9","f":"Pep","v":0.7},{"s":"NC4W1.9","f":"Bac","v":3.3},{"s":"NC4W1.9","f":"Unc","v":1.2},
{"s":"NC4W2.1","f":"Act","v":0.4},{"s":"NC4W2.1","f":"Enc","v":6.3},{"s":"NC4W2.1","f":"Lab","v":19.0},{"s":"NC4W2.1","f":"Leu","v":0.3},{"s":"NC4W2.1","f":"Mic","v":3.4},{"s":"NC4W2.1","f":"Str","v":26.0},{"s":"NC4W2.1","f":"Clo","v":43.4},{"s":"NC4W2.1","f":"Unc","v":1.2},
{"s":"NC4W2.2","f":"Rum","v":45.4},{"s":"NC4W2.2","f":"Ery","v":2.1},{"s":"NC4W2.2","f":"Lac","v":15.6},{"s":"NC4W2.2","f":"Lab","v":1.2},{"s":"NC4W2.2","f":"Pep","v":1.6},{"s":"NC4W2.2","f":"Bac","v":20.6},{"s":"NC4W2.2","f":"Str","v":0.8},{"s":"NC4W2.2","f":"Ver","v":12.7},
{"s":"NC4W2.3","f":"Rum","v":59.8},{"s":"NC4W2.3","f":"Ent","v":1.4},{"s":"NC4W2.3","f":"S24","v":0.3},{"s":"NC4W2.3","f":"Lac","v":22.8},{"s":"NC4W2.3","f":"Alc","v":9.6},{"s":"NC4W2.3","f":"Bac","v":5.2},{"s":"NC4W2.3","f":"Clo","v":0.9},
{"s":"NC4W2.4","f":"Rik","v":1.1},{"s":"NC4W2.4","f":"Rum","v":31.3},{"s":"NC4W2.4","f":"S24","v":0.3},{"s":"NC4W2.4","f":"Ent","v":22.1},{"s":"NC4W2.4","f":"Fus","v":5.4},{"s":"NC4W2.4","f":"Lac","v":2.3},{"s":"NC4W2.4","f":"Lab","v":1.0},{"s":"NC4W2.4","f":"Por","v":1.8},{"s":"NC4W2.4","f":"Clo","v":6.2},{"s":"NC4W2.4","f":"Ver","v":28.5},
{"s":"NC4W2.5","f":"Rum","v":58.9},{"s":"NC4W2.5","f":"Ent","v":2.5},{"s":"NC4W2.5","f":"Enc","v":1.0},{"s":"NC4W2.5","f":"Ery","v":3.3},{"s":"NC4W2.5","f":"Lac","v":17.8},{"s":"NC4W2.5","f":"Pep","v":0.6},{"s":"NC4W2.5","f":"Por","v":9.8},{"s":"NC4W2.5","f":"Bac","v":6.1},
{"s":"NC4W2.6","f":"Enc","v":60.0},{"s":"NC4W2.6","f":"Ery","v":0.6},{"s":"NC4W2.6","f":"Pep","v":33.9},{"s":"NC4W2.6","f":"Unc","v":5.5},
{"s":"NC4W2.7","f":"Rum","v":6.4},{"s":"NC4W2.7","f":"Sph","v":0.8},{"s":"NC4W2.7","f":"Vei","v":4.1},{"s":"NC4W2.7","f":"Ent","v":10.5},{"s":"NC4W2.7","f":"Enc","v":1.9},{"s":"NC4W2.7","f":"Lac","v":28.2},{"s":"NC4W2.7","f":"Pep","v":1.1},{"s":"NC4W2.7","f":"Str","v":5.4},{"s":"NC4W2.7","f":"Clo","v":41.6},
{"s":"NC4W2.8","f":"Rum","v":11.7},{"s":"NC4W2.8","f":"Enc","v":13.8},{"s":"NC4W2.8","f":"Lac","v":5.1},{"s":"NC4W2.8","f":"Pep","v":1.5},{"s":"NC4W2.8","f":"Por","v":12.1},{"s":"NC4W2.8","f":"Bac","v":2.9},{"s":"NC4W2.8","f":"Ver","v":52.1},{"s":"NC4W2.8","f":"Unc","v":0.8},
{"s":"NC4W2.9","f":"Rik","v":3.1},{"s":"NC4W2.9","f":"Rum","v":43.0},{"s":"NC4W2.9","f":"Sph","v":5.5},{"s":"NC4W2.9","f":"Vic","v":3.7},{"s":"NC4W2.9","f":"Ent","v":2.1},{"s":"NC4W2.9","f":"Lac","v":2.9},{"s":"NC4W2.9","f":"Odo","v":0.8},{"s":"NC4W2.9","f":"Por","v":25.5},{"s":"NC4W2.9","f":"Alc","v":3.7},{"s":"NC4W2.9","f":"Bac","v":2.7},{"s":"NC4W2.9","f":"Clo","v":2.6},{"s":"NC4W2.9","f":"Unc","v":4.4},
{"s":"NCW0.2","f":"Rum","v":29.9},{"s":"NCW0.2","f":"Str","v":2.0},{"s":"NCW0.2","f":"Syn","v":5.6},{"s":"NCW0.2","f":"Vic","v":1.0},{"s":"NCW0.2","f":"Leu","v":0.7},{"s":"NCW0.2","f":"Ent","v":11.8},{"s":"NCW0.2","f":"Lac","v":3.5},{"s":"NCW0.2","f":"Lab","v":6.9},{"s":"NCW0.2","f":"Odo","v":2.5},{"s":"NCW0.2","f":"Por","v":5.4},{"s":"NCW0.2","f":"Pre","v":2.0},{"s":"NCW0.2","f":"Alc","v":16.0},{"s":"NCW0.2","f":"Bac","v":6.5},{"s":"NCW0.2","f":"Chr","v":3.7},{"s":"NCW0.2","f":"Clo","v":1.6},{"s":"NCW0.2","f":"Unc","v":0.9},
{"s":"NCW1.2","f":"Rum","v":43.4},{"s":"NCW1.2","f":"Sph","v":2.2},{"s":"NCW1.2","f":"Vic","v":1.5},{"s":"NCW1.2","f":"Ent","v":5.0},{"s":"NCW1.2","f":"Lac","v":12.5},{"s":"NCW1.2","f":"Lab","v":2.5},{"s":"NCW1.2","f":"Vei","v":9.1},{"s":"NCW1.2","f":"Por","v":6.4},{"s":"NCW1.2","f":"Alc","v":2.7},{"s":"NCW1.2","f":"Bac","v":11.1},{"s":"NCW1.2","f":"Chr","v":1.2},{"s":"NCW1.2","f":"Clo","v":2.4},
{"s":"NCW2.2","f":"Rum","v":51.1},{"s":"NCW2.2","f":"Sph","v":2.5},{"s":"NCW2.2","f":"Ent","v":3.6},{"s":"NCW2.2","f":"Lac","v":7.4},{"s":"NCW2.2","f":"Odo","v":1.5},{"s":"NCW2.2","f":"Chr","v":2.2},{"s":"NCW2.2","f":"Por","v":4.2},{"s":"NCW2.2","f":"Alc","v":13.1},{"s":"NCW2.2","f":"Bac","v":9.1},{"s":"NCW2.2","f":"Oth","v":0.5},{"s":"NCW2.2","f":"Clo","v":2.8},{"s":"NCW2.2","f":"Vic","v":2.0}
]},
"data":{"name":"d"},
"transform":[
{"window":[{"op":"row_number","as":"k"}],"groupby":["s"]},
{"lookup":"f","from":{"data":{"name":"fam"},"key":"c","fields":["n"]}}
],
"mark":{"type":"bar"},
"encoding":{
"x":{"field":"s","type":"nominal","scale":{"paddingInner":0.15,"paddingOuter":0.65},
"axis":{"title":null,"labelAngle":-45,"labelFontSize":12,"labelColor":"#000","domain":false,"ticks":true,"tickSize":3,"tickColor":"#000","labelPadding":2}},
"y":{"field":"v","type":"quantitative","stack":"zero","scale":{"domain":[0,100],"nice":false},
"axis":{"title":"Relative abundance (%)","values":[0,20,40,60,80,100],"grid":true,"gridDash":[5,4],"gridColor":"#777","gridOpacity":{"condition":{"test":"datum.value == 0 || datum.value == 100","value":0},"value":0.8},"domainColor":"#000","tickColor":"#000","tickSize":5,"labelFontSize":15,"labelColor":"#000","titleFontSize":21,"titleFontWeight":"normal","titleColor":"#000","titlePadding":8}},
"color":{"field":"n","type":"nominal",
"scale":{"domain":["Actinomycetaceae","Aerococcaceae","Alcaligenaceae","Bacteroidaceae","Barnesiellaceae","Bifidobacteriaceae","Campylobacteraceae","Christensenellaceae","Clostridiaceae","Coriobacteriaceae","Desulfovibrionaceae","Dethiosulfovibrionaceae","Enterobacteriaceae","Enterococcaceae","Erysipelotrichaceae","Eubacteriaceae","Fusobacteriaceae","Lachnospiraceae","Lactobacillaceae","Leuconostocaceae","Methanobacteriaceae","Micrococcaceae","Mogibacteriaceae","Odoribacteraceae","Paraprevotellaceae","Pasteurellaceae","Peptostreptococcaceae","Porphyromonadaceae","Prevotellaceae","Rikenellaceae","Ruminococcaceae","S24-7","Sphaerochaetaceae","Streptococcaceae","Synergistaceae","Veillonellaceae","Verrucomicrobiaceae","Victivallaceae","Unclassified","Others(<0.5%)"],
"range":["#e41a1c","#377eb8","#4daf4a","#984ea3","#ff7f00","#ffff33","#a65628","#f781bf","#999999","#1b9e77","#d95f02","#7570b3","#e7298a","#66a61e","#e6ab02","#a6761d","#666666","#66c2a5","#fc8d62","#8da0cb","#e78ac3","#a6d854","#ffd92f","#e5c494","#b3b3b3","#1a1a1a","#67001f","#e41a1c","#377eb8","#4daf4a","#984ea3","#ff7f00","#ffff33","#a65628","#f781bf","#999999","#1b9e77","#d95f02","#7570b3","#e7298a"]},
"legend":{"title":null,"orient":"none","legendX":1512,"legendY":7,"columns":2,"columnPadding":16,"rowPadding":3.5,"symbolLimit":0,"symbolType":"square","symbolSize":140,"symbolStrokeColor":"#333","symbolStrokeWidth":1,"symbolOpacity":1,"labelFontSize":15,"labelColor":"#000","labelLimit":300,"labelOffset":4,"padding":0}},
"order":{"field":"k","type":"quantitative"}
}
}
